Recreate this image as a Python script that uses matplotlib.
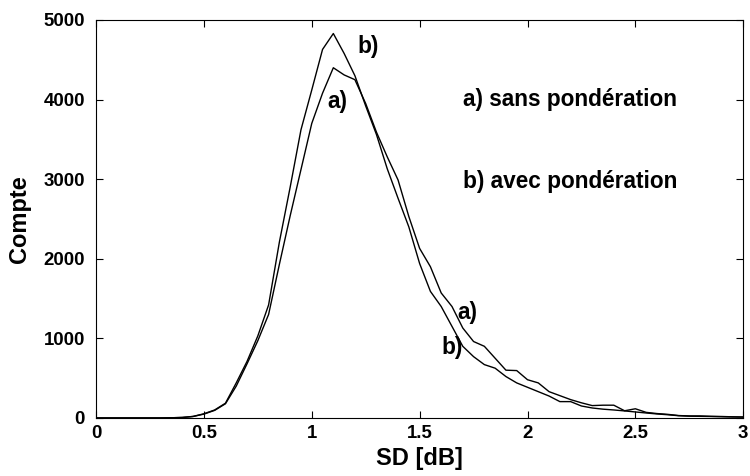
import numpy as np
import matplotlib
matplotlib.use("Agg")
from matplotlib import pyplot as plt

plt.rcParams['font.family'] = ['Liberation Sans', 'DejaVu Sans']
plt.rcParams['font.weight'] = 'bold'

# SD bins [dB]
sd = np.round(np.arange(0, 3.0001, 0.05), 2)

# a) sans pondération
compte_a = [0, 0, 0, 0, 0, 0, 0, 2, 6, 18,
            48, 95, 178, 400, 680, 970, 1300, 1930, 2540, 3120,
            3700, 4080, 4400, 4310, 4250, 3950, 3590, 3280, 2990, 2530,
            2130, 1900, 1570, 1400, 1130, 960, 900, 750, 600, 595,
            480, 440, 330, 280, 230, 190, 155, 160, 160, 90,
            115, 70, 55, 45, 30, 25, 25, 20, 18, 14, 12]

# b) avec pondération
compte_b = [0, 0, 0, 0, 0, 0, 0, 2, 6, 19,
            52, 100, 185, 440, 710, 1030, 1420, 2210, 2900, 3620,
            4120, 4630, 4830, 4580, 4300, 3920, 3560, 3130, 2760, 2400,
            1940, 1590, 1400, 1150, 900, 770, 670, 625, 520, 440,
            385, 330, 275, 205, 205, 150, 125, 110, 100, 88,
            75, 62, 50, 40, 28, 22, 20, 18, 15, 12, 10]

fig = plt.figure(figsize=(7.5, 4.76), dpi=100)
ax = fig.add_axes([0.128, 0.122, 0.863, 0.836])

ax.plot(sd, compte_a, color='black', lw=1.0)
ax.plot(sd, compte_b, color='black', lw=1.0)

ax.set_xlim(0, 3)
ax.set_ylim(0, 5000)
ax.set_xticks([0, 0.5, 1, 1.5, 2, 2.5, 3])
ax.set_xticklabels(['0', '0.5', '1', '1.5', '2', '2.5', '3'])
ax.set_yticks([0, 1000, 2000, 3000, 4000, 5000])
ax.tick_params(direction='in', top=True, right=True, length=5, labelsize=13.4)
ax.tick_params(axis='y', pad=8)
ax.tick_params(axis='x', pad=5)
for lbl in ax.get_xticklabels() + ax.get_yticklabels():
    lbl.set_fontweight('bold')

ax.set_xlabel('SD [dB]', fontsize=17, fontweight='bold', labelpad=4)
ax.set_ylabel('Compte', fontsize=17, fontweight='bold', labelpad=9)

fs = 16.3
ax.text(1.261, 4661, 'b)', fontsize=fs, fontweight='bold', ha='center', va='center')
ax.text(1.117, 3982, 'a)', fontsize=fs, fontweight='bold', ha='center', va='center')
ax.text(1.70, 3995, 'a) sans pondération', fontsize=fs, fontweight='bold', ha='left', va='center')
ax.text(1.70, 2965, 'b) avec pondération', fontsize=fs, fontweight='bold', ha='left', va='center')
ax.text(1.72, 1319, 'a)', fontsize=fs, fontweight='bold', ha='center', va='center')
ax.text(1.65, 879, 'b)', fontsize=fs, fontweight='bold', ha='center', va='center')

fig.savefig('out.png', dpi=100)
